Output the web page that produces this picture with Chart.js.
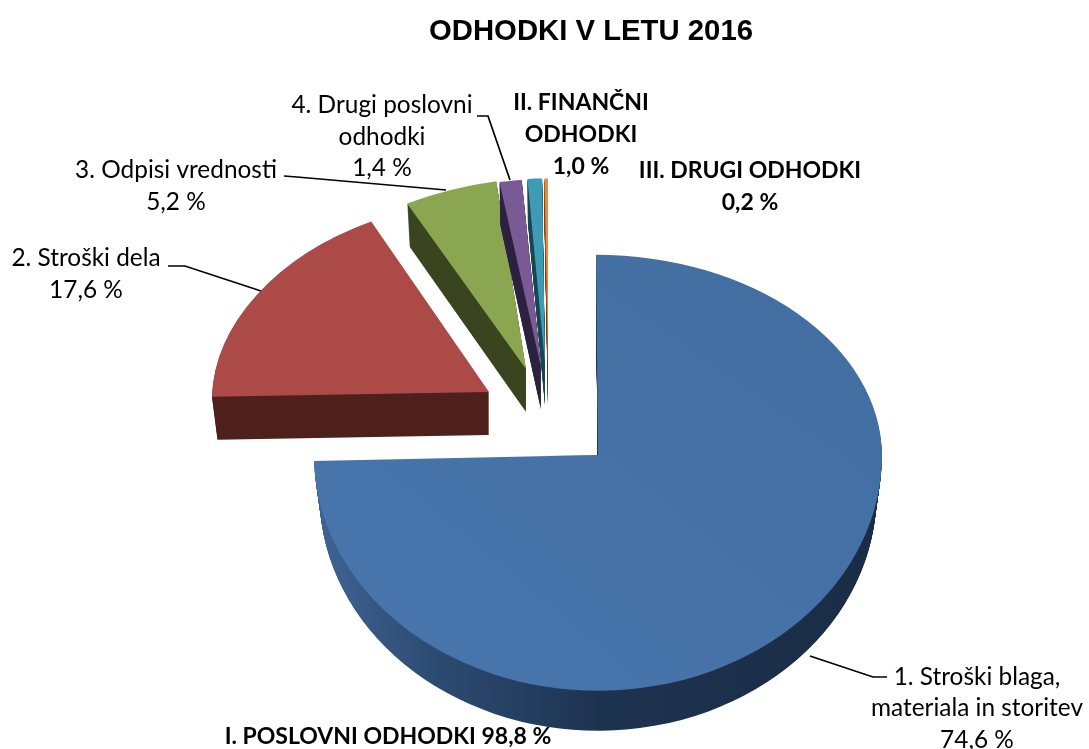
<!DOCTYPE html>
<html>
<head>
<meta charset="utf-8">
<style>html,body{margin:0;padding:0;background:#fff}canvas{display:block}</style>
<script src="https://cdn.jsdelivr.net/npm/chart.js@4"></script>
</head>
<body>
<canvas id="c" width="1089" height="749"></canvas>
<script>
const chartTitle = 'ODHODKI V LETU 2016';
const categories = ['1. Stroški blaga, materiala in storitev', '2. Stroški dela', '3. Odpisi vrednosti', '4. Drugi poslovni odhodki', 'II. FINANČNI ODHODKI', 'III. DRUGI ODHODKI'];
const values = [74.6, 17.6, 5.2, 1.4, 1.0, 0.2];
const groupTotalLabel = 'I. POSLOVNI ODHODKI 98,8 %';

const topColors = ['#4673aa', '#ab4a46', '#8aa650', '#7a5a95', '#3f9bb3', '#e68a3e'];
const sideColors = ['#1f3a5c', '#4e211d', '#3a4520', '#2e2343', '#1a4956', '#7a4316'];

/* 3-D look: per-slice explosion shift and projection matrix [a, b, c, d] */
const viewShift = [7, 0];
const explode = [[0, 0], [-109, -63], [-72, -86], [-57, -88], [-53, -92], [-50, -92]];
const project = [
  [[1, 0.007, 0, 0.705], [1, 0, 0, 0.83]],
  [[0.975, -0.05, 0, 0.68]],
  [[1, -0.059, -0.026, 0.674]],
  [[0.9, 0, 0, 0.66]],
  [[0.82, 0, 0, 0.65]],
  [[1, 0, 0, 0.65]]
];
const depths = [40, 43, 43, 43, 43, 43];
const pieRadius = 284;

const labelFont = '24.4px Lato';
const labelFontBold = 'bold 23px Lato';
const labelLayout = [
  {x: 977, y: [677, 708, 740], lines: ['1. Stroški blaga,', 'materiala in storitev'], leader: [[887,677],[873,677],[810,656]]},
  {x: 86, y: [258, 290], lines: ['2. Stroški dela'], leader: [[168,266],[185,266],[261,291]]},
  {x: 176, y: [170, 202], lines: ['3. Odpisi vrednosti'], leader: [[284,176],[297,177],[446,190]]},
  {x: 382, y: [105, 137, 168], lines: ['4. Drugi poslovni', 'odhodki'], leader: [[477,116],[488,116],[510,180]]},
  {x: 581, y: [103, 135, 167], lines: ['II. FINANČNI', 'ODHODKI'], bold: true},
  {x: 750, y: [171, 203], lines: ['III. DRUGI ODHODKI'], bold: true}
];
const fmt = v => v.toFixed(1).replace('.', ',') + ' %';

const pie3d = {
  id: 'pie3d',
  beforeDatasetDraw(chart, args) {
    const ctx = chart.ctx, arcs = args.meta.data;
    arcs.forEach((arc, i) => {
      const cx = Math.round(arc.x) + viewShift[0] + explode[i][0];
      const cy = Math.round(arc.y) + viewShift[1] + explode[i][1];
      const R = pieRadius;
      const base = arc.options;
      let top = topColors[i], side = sideColors[i];
      if (i === 0) {
        top = ctx.createLinearGradient(arc.x + R, arc.y - R, arc.x - R, arc.y + R);
        top.addColorStop(0, '#436d9f'); top.addColorStop(1, '#4876ae');
        side = ctx.createLinearGradient(arc.x - R, 0, arc.x + R, 0);
        side.addColorStop(0, '#3d6592'); side.addColorStop(0.2, '#2d4c73'); side.addColorStop(0.5, '#1e3350'); side.addColorStop(1, '#1a2c45');
      }
      const paint = (fill, dy, sx) => {
        const o = Object.create(base); o.backgroundColor = fill; arc.options = o;
        project[i].forEach((m, h) => {
          ctx.save();
          ctx.translate(cx, cy + dy);
          ctx.transform(m[0] * sx, m[2], m[1] * sx, m[3], 0, 0);
          ctx.translate(-arc.x, -arc.y);
          if (project[i].length > 1) {
            ctx.beginPath();
            if (h === 0) ctx.rect(arc.x - R - 5, arc.y - R - 5, 2 * R + 10, R + 5.7);
            else ctx.rect(arc.x - R - 5, arc.y, 2 * R + 10, R + 5);
            ctx.clip();
          }
          arc.draw(ctx);
          ctx.restore();
        });
      };
      for (let d = depths[i]; d > 0; d--) paint(side, d, 1 - 0.02 * d / depths[i]);
      paint(top, 0, 1);
      arc.options = base;
    });
    return false;
  },
  afterDraw(chart) {
    const ctx = chart.ctx;
    ctx.save();
    ctx.textAlign = 'center';
    ctx.textBaseline = 'middle';
    labelLayout.forEach((l, i) => {
      if (l.leader) {
        ctx.beginPath();
        l.leader.forEach((p, j) => j ? ctx.lineTo(p[0], p[1]) : ctx.moveTo(p[0], p[1]));
        ctx.strokeStyle = '#000'; ctx.lineWidth = 1.7; ctx.stroke();
      }
      ctx.font = l.bold ? labelFontBold : labelFont;
      ctx.fillStyle = '#000';
      l.lines.concat([fmt(values[i])]).forEach((t, j) => ctx.fillText(t, l.x, l.y[j]));
    });
    ctx.font = labelFontBold;
    ctx.fillText(groupTotalLabel, 388, 737);
    ctx.restore();
  }
};

new Chart(document.getElementById('c'), {
  type: 'pie',
  data: {labels: categories, datasets: [{data: values, backgroundColor: topColors, borderWidth: 0}]},
  options: {
    responsive: false,
    animation: false,
    radius: pieRadius,
    rotation: 0,
    layout: {padding: {left: 93, right: 0, top: 0, bottom: 0}},
    plugins: {
      legend: {display: false},
      tooltip: {enabled: false},
      title: {display: true, text: chartTitle, color: '#000', font: {family: 'Liberation Sans', size: 29.3, weight: 'bold'}, padding: {top: 14, bottom: 111}}
    }
  },
  plugins: [pie3d]
});
</script>
</body>
</html>
